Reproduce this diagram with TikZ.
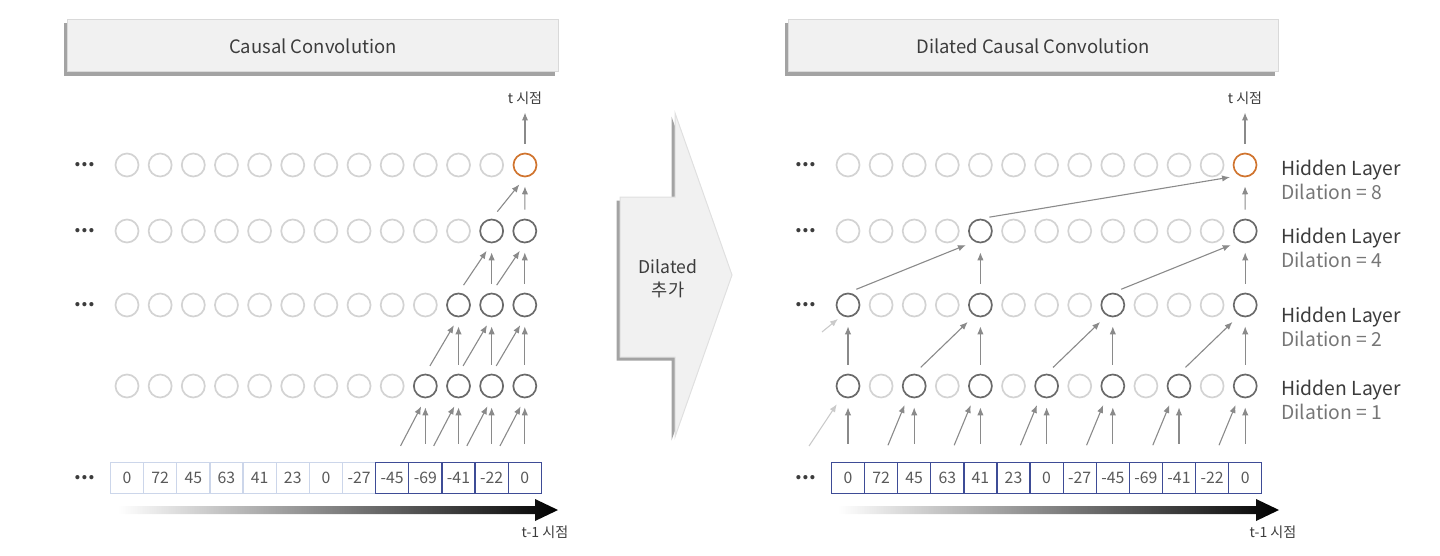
\documentclass[tikz,border=0pt]{standalone}
\usepackage{fontspec}
\setmainfont{Noto Sans CJK KR}
\usetikzlibrary{arrows.meta,positioning,calc,shadows}
\definecolor{cring}{HTML}{D3D3D3}
\definecolor{cact}{HTML}{6A6A6A}
\definecolor{cout}{HTML}{D0742E}
\definecolor{cnavy}{HTML}{3E4C96}
\definecolor{cpale}{HTML}{CCD6EA}
\definecolor{cink}{HTML}{3C3C3C}
\definecolor{csoft}{HTML}{767676}
\definecolor{carr}{HTML}{8A8A8A}
\definecolor{cpanel}{HTML}{F1F1F1}
\tikzset{
  ring/.style={circle,draw=cring,line width=0.34mm,minimum size=4.6mm,inner sep=0pt},
  val/.style={draw=cpale,line width=0.25mm,minimum width=6.63mm,minimum height=6.2mm,inner sep=0pt,font=\fontsize{9}{10}\selectfont,text=cink!85},
  head/.style={fill=cpanel,draw=black!15,line width=0.2mm,minimum width=98mm,minimum height=10.4mm,font=\fontsize{10.5}{12}\selectfont,text=cink,drop shadow={shadow xshift=-0.7mm,shadow yshift=-0.7mm,fill=black!45,opacity=0.8}},
  dots/.style={font=\fontsize{11}{11}\selectfont\bfseries,text=cink},
  tlbl/.style={font=\fontsize{8}{9}\selectfont,text=cink},
  hlbl/.style={font=\fontsize{11}{14}\selectfont,align=left,anchor=west,inner sep=0pt},
  arr/.style={-{Latex[length=4.5pt,width=3.6pt]},line width=0.22mm,draw=carr,shorten <=1.8mm,shorten >=1.8mm},
  darr/.style={arr,shorten <=3.6mm},
  farr/.style={arr,draw=carr!45},
}
\begin{document}
\begin{tikzpicture}[x=0.2mm,y=-0.2mm]
  \useasboundingbox (0,0) rectangle (1440,555);
  % titulos
  \node[head] (tl) at (313,46) {Causal Convolution};
  \node[head] (tr) at (1033,46) {Dilated Causal Convolution};
  % causal (esquerda)
  \foreach \c in {0,...,11} \node[ring] (l1-\c) at ({127+33.15*\c},165) {};
  \node[ring,draw=cout] (l1-12) at (525,165) {};
  \foreach \r/\y in {2/231,3/305,4/386}
    \foreach \c in {0,...,12}{
      \ifnum\numexpr\c+\r\relax>12 \def\dc{cact}\else\def\dc{cring}\fi
      \node[ring,draw=\dc] (l\r-\c) at ({127+33.15*\c},\y) {};
    }
  \foreach \v [count=\c from 0] in {0,72,45,63,41,23,0,-27,-45,-69,-41,-22,0}{
    \ifnum\c>7 \def\dc{cnavy}\else\def\dc{cpale}\fi
    \node[val,draw=\dc] (ld\c) at ({127+33.15*\c},478) {\v};
  }
  \node[dots] (ldot1) at (85,165) {...}; \node[dots] (ldot2) at (85,231) {...};
  \node[dots] (ldot3) at (85,305) {...}; \node[dots] (ldot4) at (85,478) {...};
  \node[tlbl] (lt) at (525,98) {t 시점};
  \node[tlbl] (lb) at (545,532) {t-1 시점};
  \foreach \r/\s/\lo in {1/2/12,2/3/11,3/4/10}
    \foreach \c in {\lo,...,12}{
      \pgfmathtruncatemacro\p{\c-1}
      \draw[arr] (l\s-\p.north) -- (l\r-\c.south);
      \draw[arr] (l\s-\c.north) -- (l\r-\c.south);
    }
  \foreach \c in {9,...,12}{
    \pgfmathtruncatemacro\p{\c-1}
    \draw[darr] (ld\p.north) -- (l4-\c.south);
    \draw[darr] (ld\c.north) -- (l4-\c.south);
  }
  \draw[arr,shorten >=0.4mm] (l1-12.north) -- (lt.south);
  \shade[left color=white,middle color=black!35,right color=black] (118,506) -- (535,506) -- (535,499) -- (558,510) -- (535,521) -- (535,514) -- (118,514) -- cycle;
  % seta do meio
  \path[fill=cpanel,draw=black!12,line width=0.2mm,drop shadow={shadow xshift=-0.7mm,shadow yshift=-0.7mm,fill=black!45,opacity=0.8}]
    (620,197) -- (675,197) -- (675,113) -- (732,275) -- (675,437) -- (675,357) -- (620,357) -- cycle;
  \node[font=\fontsize{10}{13}\selectfont,text=cink,align=center] (dil) at (668,279) {Dilated\\추가};
  % dilated (direita)
  \foreach \c in {0,...,11} \node[ring] (r1-\c) at ({848+33.1*\c},165) {};
  \node[ring,draw=cout] (r1-12) at (1245,165) {};
  \foreach \r/\y/\m in {2/231/8,3/305/4,4/386/2}
    \foreach \c in {0,...,12}{
      \pgfmathtruncatemacro\k{mod(12-\c,\m)}
      \ifnum\k=0 \def\dc{cact}\else\def\dc{cring}\fi
      \node[ring,draw=\dc] (r\r-\c) at ({848+33.1*\c},\y) {};
    }
  \foreach \v [count=\c from 0] in {0,72,45,63,41,23,0,-27,-45,-69,-41,-22,0}
    \node[val,draw=cnavy] (rd\c) at ({848+33.1*\c},478) {\v};
  \node[dots] (rdot1) at (806,165) {...}; \node[dots] (rdot2) at (806,231) {...};
  \node[dots] (rdot3) at (806,305) {...}; \node[dots] (rdot4) at (806,478) {...};
  \node[tlbl] (rt) at (1245,98) {t 시점};
  \node[tlbl] (rb) at (1273,532) {t-1 시점};
  \foreach \c in {0,2,...,12} \draw[darr] (rd\c.north) -- (r4-\c.south);
  \foreach \c in {2,4,...,12}{
    \pgfmathtruncatemacro\p{\c-1}
    \draw[darr] (rd\p.north) -- (r4-\c.240);
  }
  \coordinate (rin1) at (809,446); \draw[farr,shorten <=0pt] (rin1) -- (r4-0.240);
  \foreach \c in {0,4,8,12} \draw[arr] (r4-\c.north) -- (r3-\c.south);
  \foreach \c in {4,8,12}{
    \pgfmathtruncatemacro\p{\c-2}
    \draw[arr] (r4-\p.north) -- (r3-\c.240);
  }
  \coordinate (rin2) at (822,332); \draw[farr,shorten <=0pt,shorten >=1mm] (rin2) -- (r3-0.240);
  \foreach \c in {4,12}{
    \pgfmathtruncatemacro\p{\c-4}
    \draw[arr] (r3-\c.north) -- (r2-\c.south);
    \draw[arr] (r3-\p.north) -- (r2-\c.240);
  }
  \draw[arr] (r2-12.north) -- (r1-12.south); \draw[arr] (r2-4.north) -- (r1-12.240);
  \draw[arr,shorten >=0.4mm] (r1-12.north) -- (rt.south);
  \shade[left color=white,middle color=black!35,right color=black] (838,506) -- (1256,506) -- (1256,499) -- (1279,510) -- (1256,521) -- (1256,514) -- (838,514) -- cycle;
  % rotulos das camadas
  \node[hlbl] (h8) at (1281,180) {{\color{cink}Hidden Layer}\\{\color{csoft}Dilation = 8}};
  \node[hlbl] (h4) at (1281,248) {{\color{cink}Hidden Layer}\\{\color{csoft}Dilation = 4}};
  \node[hlbl] (h2) at (1281,327) {{\color{cink}Hidden Layer}\\{\color{csoft}Dilation = 2}};
  \node[hlbl] (h1) at (1281,400) {{\color{cink}Hidden Layer}\\{\color{csoft}Dilation = 1}};
\end{tikzpicture}
\end{document}
